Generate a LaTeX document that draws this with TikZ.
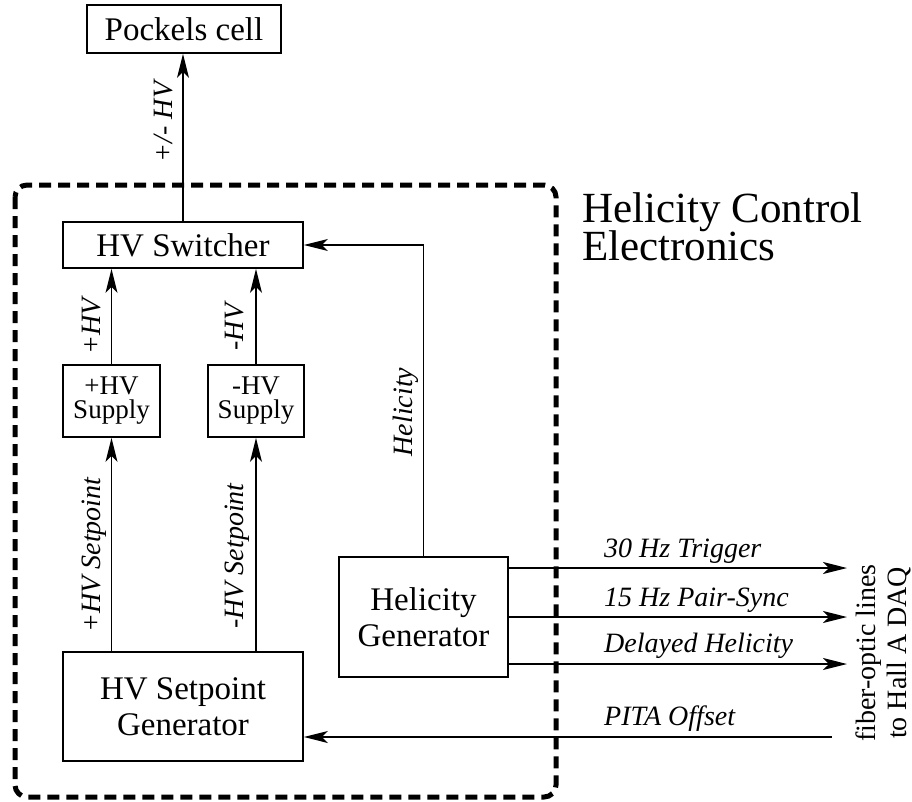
\documentclass[tikz,border=0pt]{standalone}
\usepackage{fontspec}
\setmainfont{Liberation Serif}
\usetikzlibrary{arrows.meta}
\tikzset{
  blk/.style={draw, line width=1.8pt, inner sep=0pt, align=center},
  boxfont/.style={font=\fontsize{33}{36}\selectfont},
  supfont/.style={font=\fontsize{27}{24}\selectfont},
  lbl/.style={font=\fontsize{28}{30}\selectfont\itshape, inner sep=0pt},
  sig/.style={line width=1.6pt, -{Stealth[length=24pt,width=12pt,inset=6pt]}},
  thinsig/.style={sig, line width=1.2pt},
  frame/.style={line width=5pt, dash pattern=on 12pt off 7pt, rounded corners=12pt},
}
\begin{document}
\begin{tikzpicture}[x=1pt,y=-1pt]
\useasboundingbox (0,0) rectangle (912,801);
\draw[frame] (15,185) rectangle (556,797);
\node[font=\fontsize{43}{38}\selectfont, anchor=base west, inner sep=0pt] (title1) at (582,222) {Helicity Control};
\node[font=\fontsize{43}{38}\selectfont, anchor=base west, inner sep=0pt] (title2) at (582,260) {Electronics};
\node[blk,boxfont,minimum width=194pt,minimum height=48pt] (pockels) at (184,29) {Pockels cell};
\node[blk,boxfont,minimum width=240pt,minimum height=46pt] (switcher) at (183,245) {HV Switcher};
\node[blk,supfont,minimum width=97pt,minimum height=72pt] (psup) at (111.5,401) {+HV\\Supply};
\node[blk,supfont,minimum width=96pt,minimum height=72pt] (msup) at (256,401) {-HV\\Supply};
\node[blk,boxfont,minimum width=240pt,minimum height=109pt] (setgen) at (183,706.5) {HV Setpoint\\Generator};
\node[blk,boxfont,minimum width=169pt,minimum height=120pt] (helgen) at (423.5,617) {Helicity\\Generator};
\coordinate (o1) at (847,568);
\coordinate (o2) at (847,617);
\coordinate (o3) at (847,664);
\coordinate (pita) at (832,737);
\draw[thinsig] (switcher.north) -- (switcher.north |- pockels.south);
\draw[sig] (psup.north) -- (psup.north |- switcher.south);
\draw[sig] (msup.north) -- (msup.north |- switcher.south);
\draw[sig] (setgen.north -| psup.south) -- (psup.south);
\draw[sig] (setgen.north -| msup.south) -- (msup.south);
\draw[thinsig] (helgen.north) |- (switcher.east);
\draw[sig] (helgen.east |- o1) -- (o1);
\draw[sig] (helgen.east |- o2) -- (o2);
\draw[sig] (helgen.east |- o3) -- (o3);
\draw[sig] (pita) -- (setgen.east |- pita);
\node[lbl, rotate=90, anchor=base] (lpm) at (172,122) {+/- HV};
\node[lbl, rotate=90, anchor=base] (lphv) at (100,326) {+HV};
\node[lbl, rotate=90, anchor=base] (lmhv) at (243,327) {-HV};
\node[lbl, rotate=90, anchor=base] (lpset) at (100,555) {+HV Setpoint};
\node[lbl, rotate=90, anchor=base] (lmset) at (243,556) {-HV Setpoint};
\node[lbl, rotate=90, anchor=base] (lhel) at (412,412) {Helicity};
\node[lbl, anchor=base west] (l30) at (604,557) {30 Hz Trigger};
\node[lbl, anchor=base west] (l15) at (604,606) {15 Hz Pair-Sync};
\node[lbl, anchor=base west] (ldel) at (604,652) {Delayed Helicity};
\node[lbl, anchor=base west] (lpita) at (604,725) {PITA Offset};
\node[font=\fontsize{28}{31}\selectfont, rotate=90, align=center, inner sep=0pt] (fiber) at (883,653) {fiber-optic lines\\to Hall A DAQ};
\end{tikzpicture}
\end{document}
